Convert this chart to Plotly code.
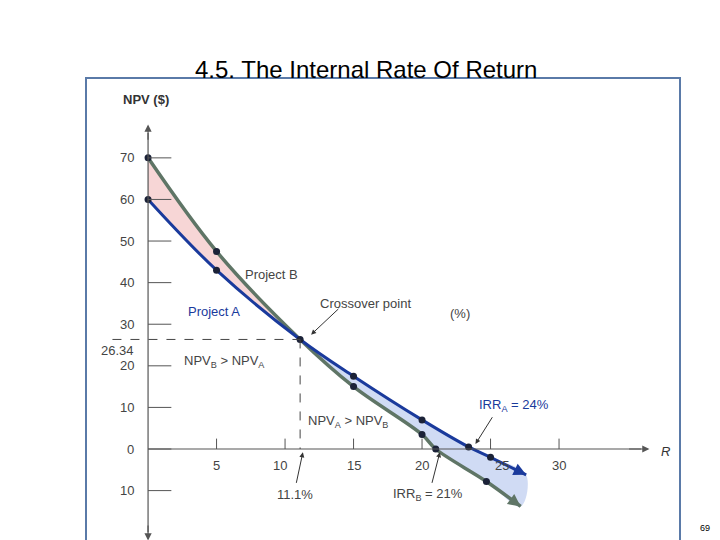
import plotly.graph_objects as go

rates_a = [0, 5, 11.1, 15, 20, 23.4, 25, 27.6]
npv_a = [60, 43, 26.34, 17.5, 7, 0.5, -2, -6.2]
rates_b = [0, 5, 11.1, 15, 20, 21, 24.7, 27.2]
npv_b = [70, 47.5, 26.34, 15, 3.5, 0, -7.8, -13.8]
marker_idx_a = [0, 1, 3, 4, 5, 6]
marker_idx_b = [0, 1, 3, 4, 5, 6]
cross_x, cross_y = 11.1, 26.34
x_ticks = [5, 10, 15, 20, 25, 30]
y_ticks = [70, 60, 50, 40, 30, 20, 10, 0, -10]
y_tick_labels = ["70", "60", "50", "40", "30", "20", "10", "0", "10"]

BLUE = "#1a3a9c"
GREEN = "#5f7566"
FONT = "Liberation Sans"

fig = go.Figure()
ia = [i for i, x in enumerate(rates_a) if x <= cross_x]
ib = [i for i, x in enumerate(rates_b) if x <= cross_x]
fig.add_trace(go.Scatter(x=[rates_b[i] for i in ib] + [rates_a[i] for i in ia][::-1],
                         y=[npv_b[i] for i in ib] + [npv_a[i] for i in ia][::-1],
                         fill="toself", fillcolor="rgba(240,180,180,0.55)", line=dict(width=0),
                         mode="lines", line_shape="spline", hoverinfo="skip"))
ia2 = [i for i, x in enumerate(rates_a) if x >= cross_x]
ib2 = [i for i, x in enumerate(rates_b) if x >= cross_x]
fig.add_trace(go.Scatter(x=[rates_a[i] for i in ia2] + [rates_b[i] for i in ib2][::-1],
                         y=[npv_a[i] for i in ia2] + [npv_b[i] for i in ib2][::-1],
                         fill="toself", fillcolor="rgba(170,190,235,0.55)", line=dict(width=0),
                         mode="lines", line_shape="spline", hoverinfo="skip"))
fig.add_trace(go.Scatter(x=rates_b, y=npv_b, mode="lines", line=dict(color=GREEN, width=3.5, shape="spline")))
fig.add_trace(go.Scatter(x=rates_a, y=npv_a, mode="lines", line=dict(color=BLUE, width=3, shape="spline")))
fig.add_trace(go.Scatter(x=[rates_a[i] for i in marker_idx_a] + [rates_b[i] for i in marker_idx_b] + [cross_x],
                         y=[npv_a[i] for i in marker_idx_a] + [npv_b[i] for i in marker_idx_b] + [cross_y],
                         mode="markers", marker=dict(color="#1b2238", size=7)))

ann = []
def arrow_end(xs, ys, color):
    ann.append(dict(x=xs[-1], y=ys[-1], ax=xs[-2] + (xs[-1]-xs[-2])*0.6, ay=ys[-2] + (ys[-1]-ys[-2])*0.6,
                    xref="x", yref="y", axref="x", ayref="y", showarrow=True, arrowhead=2,
                    arrowsize=1, arrowwidth=2.5, arrowcolor=color, text=""))
arrow_end(rates_a, npv_a, BLUE)
arrow_end(rates_b, npv_b, GREEN)

shapes = [
    dict(type="rect", xref="paper", yref="paper", x0=0, x1=1, y0=0, y1=1,
         line=dict(color="#5a7aa8", width=2), fillcolor="white", layer="below"),
    dict(type="line", x0=0, x1=36, y0=0, y1=0, line=dict(color="#555", width=1.2)),
    dict(type="line", x0=0, x1=0, y0=-20, y1=76, line=dict(color="#555", width=1.2)),
    dict(type="line", x0=-2.6, x1=cross_x, y0=cross_y, y1=cross_y, line=dict(color="#444", width=1, dash="dash")),
    dict(type="line", x0=cross_x, x1=cross_x, y0=cross_y, y1=0, line=dict(color="#444", width=1, dash="dash")),
]
for t in x_ticks:
    shapes.append(dict(type="line", x0=t, x1=t, y0=0, y1=2.5, line=dict(color="#555", width=1)))
for t in y_ticks:
    shapes.append(dict(type="line", x0=0, x1=1.7, y0=t, y1=t, line=dict(color="#555", width=1)))

ann.append(dict(x=36.6, y=0, ax=35, ay=0, xref="x", yref="y", axref="x", ayref="y", showarrow=True,
                arrowhead=2, arrowsize=1.2, arrowwidth=1.2, arrowcolor="#555", text=""))
ann.append(dict(x=0, y=78, ax=0, ay=74, xref="x", yref="y", axref="x", ayref="y", showarrow=True,
                arrowhead=2, arrowsize=1.2, arrowwidth=1.2, arrowcolor="#555", text=""))
ann.append(dict(x=0, y=-22, ax=0, ay=-18, xref="x", yref="y", axref="x", ayref="y", showarrow=True,
                arrowhead=2, arrowsize=1.2, arrowwidth=1.2, arrowcolor="#555", text=""))

lbl_x_pos = [5, 9.6, 15, 20, 25.8, 30]
for p, t in zip(lbl_x_pos, x_ticks):
    ann.append(dict(x=p, y=-4, text=str(t), showarrow=False, font=dict(size=13, color="#444", family=FONT)))
for t, l in zip(y_ticks, y_tick_labels):
    ann.append(dict(x=-0.9, y=t, text=l, xanchor="right", showarrow=False, font=dict(size=13, color="#444", family=FONT)))
ann.append(dict(x=-0.9, y=cross_y - 2.6, text="26.34", xanchor="right", showarrow=False, font=dict(size=13, color="#444", family=FONT)))

def txt(x, y, t, color="#444", size=13, **kw):
    d = dict(x=x, y=y, text=t, showarrow=False, font=dict(size=size, color=color, family=FONT))
    d.update(kw); ann.append(d)

txt(-2, 84, "<b>NPV ($)</b>", xanchor="left", color="#333")
txt(37.3, -0.5, "<i>R</i>", xanchor="left", color="#333")
txt(9, 42, "Project B")
txt(4.8, 33, "Project A", color=BLUE)
txt(12.4, 35, "Crossover point", xanchor="left")
txt(22.8, 32.5, "(%)")
txt(2.5, 21, "NPV<sub>B</sub> > NPV<sub>A</sub>", xanchor="left")
txt(11.5, 6.5, "NPV<sub>A</sub> > NPV<sub>B</sub>", xanchor="left")
txt(26.7, 10.5, "IRR<sub>A</sub> = 24%", color=BLUE)
txt(10.7, -11, "11.1%")
txt(20.4, -11, "IRR<sub>B</sub> = 21%")
ann.append(dict(x=11.9, y=27.5, ax=14, ay=34, xref="x", yref="y", axref="x", ayref="y", showarrow=True, arrowhead=2, arrowwidth=1, arrowcolor="#333", text=""))
ann.append(dict(x=11.3, y=-0.8, ax=10.8, ay=-8.5, xref="x", yref="y", axref="x", ayref="y", showarrow=True, arrowhead=2, arrowwidth=1, arrowcolor="#333", text=""))
ann.append(dict(x=21.3, y=-0.8, ax=20.7, ay=-8.5, xref="x", yref="y", axref="x", ayref="y", showarrow=True, arrowhead=2, arrowwidth=1, arrowcolor="#333", text=""))
ann.append(dict(x=23.9, y=1.2, ax=25.2, ay=8, xref="x", yref="y", axref="x", ayref="y", showarrow=True, arrowhead=2, arrowwidth=1, arrowcolor="#333", text=""))

ann.append(dict(x=358, y=46, xref="paper", yref="paper", text="4.5. The Internal Rate Of Return", showarrow=False,
                font=dict(size=24, color="black", family=FONT)))
ann.append(dict(x=704, y=527, xref="paper", yref="paper", text="69", showarrow=False,
                font=dict(size=9, color="black", family=FONT)))
# convert pixel positions of slide texts into paper fractions
L, R, T, B = 78, 48, 70, 0
pw, ph = 720 - L - R, 540 - T - B
for a in ann[-2:]:
    a["x"] = (a["x"] - L) / pw
    a["y"] = 1 - (a["y"] - T) / ph

fig.update_layout(width=720, height=540, margin=dict(l=L, r=R, t=T, b=B),
                  paper_bgcolor="white", plot_bgcolor="rgba(0,0,0,0)", showlegend=False,
                  xaxis=dict(range=[-4.53, 38.83], visible=False), yaxis=dict(range=[-23.8, 89.2], visible=False),
                  shapes=shapes, annotations=ann)
fig.write_html("out.html")
